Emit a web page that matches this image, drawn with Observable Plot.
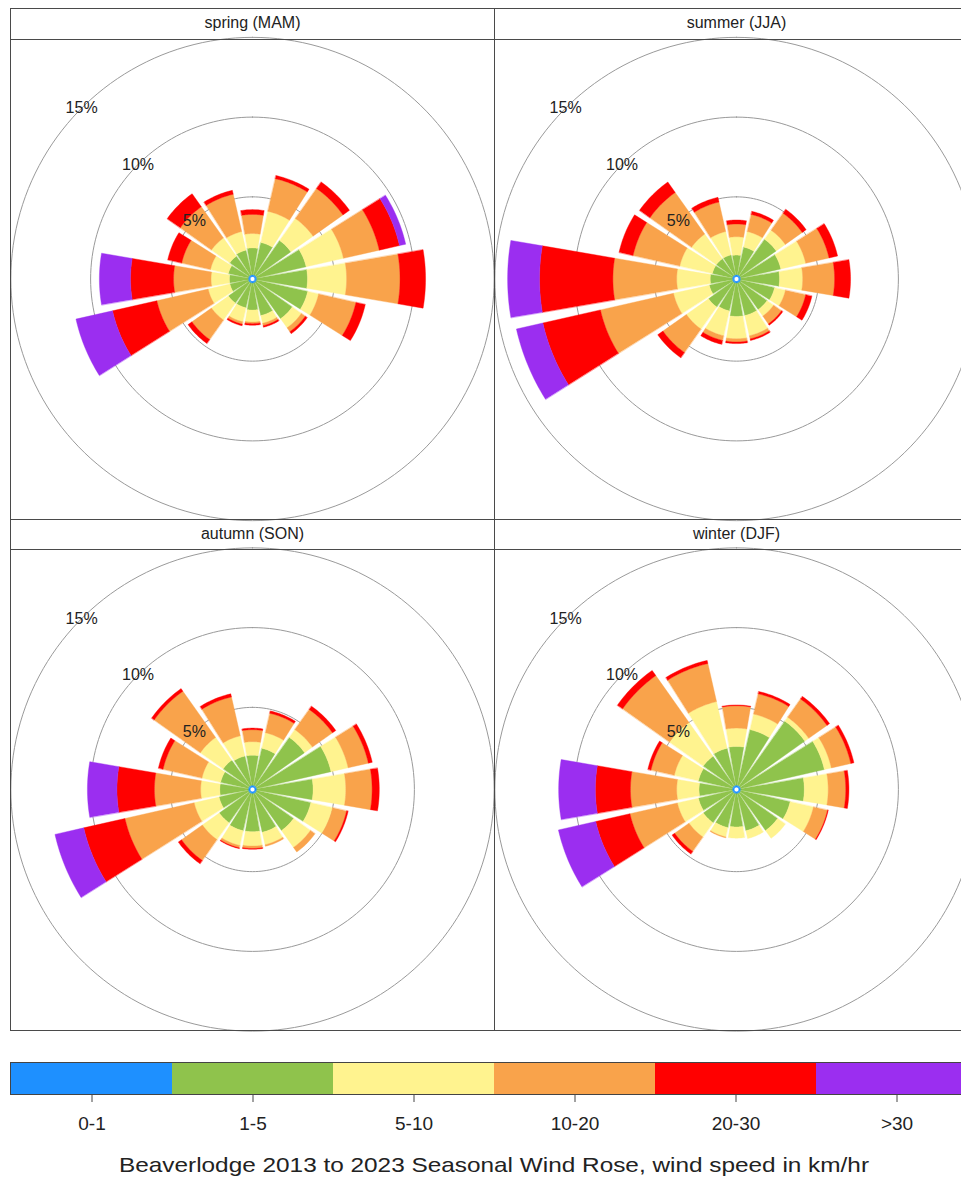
<!DOCTYPE html>
<html><head><meta charset="utf-8">
<script src="https://cdn.jsdelivr.net/npm/d3@7"></script>
<script src="https://cdn.jsdelivr.net/npm/@observablehq/plot@0.6"></script>
<style>
html,body{margin:0;padding:0;background:#fff;overflow:hidden;}
body{font-family:"Liberation Sans",Arial,Helvetica,sans-serif;}
#fig{position:relative;width:987px;height:1187px;overflow:hidden;}
.panel{position:absolute;box-sizing:border-box;border:1.5px solid #4a4a4a;}
.strip{position:absolute;left:0;right:0;top:0;box-sizing:border-box;border-bottom:1.5px solid #4a4a4a;text-align:center;font-size:16px;color:#222;}
.rose{position:absolute;}
</style></head><body><div id="fig"></div>
<script>
// ---- categories ----
const directions = [0, 22.5, 45, 67.5, 90, 112.5, 135, 157.5, 180, 202.5, 225, 247.5, 270, 292.5, 315, 337.5];
const directionNames = ["N","NNE","NE","ENE","E","ESE","SE","SSE","S","SSW","SW","WSW","W","WNW","NW","NNW"];
const speedBins = ["0-1", "1-5", "5-10", "10-20", "20-30", ">30"];
const binColors = ["#1E90FF", "#8FC34C", "#FFF38F", "#F9A34B", "#FF0000", "#9B2EF0"];
const seasonNames = ["spring (MAM)", "summer (JJA)", "autumn (SON)", "winter (DJF)"];
const gridLevels = [5, 10, 15];
const captionText = "Beaverlodge 2013 to 2023 Seasonal Wind Rose, wind speed in km/hr";

// ---- frequencies (% of time) by direction, one array per speed bin ----
const spring_0_1   = [0.12,0.12,0.12,0.12,0.12,0.12,0.12,0.12,0.12,0.12,0.12,0.12,0.12,0.12,0.12,0.12];
const spring_1_5   = [1.68,2.08,2.68,3.18,3.18,3.28,2.78,2.08,1.68,1.58,1.58,1.18,1.18,1.28,1.48,1.58];
const spring_5_10  = [0.90,2.00,1.70,2.40,2.45,0.70,0.70,0.50,0.75,0.90,1.30,1.40,1.15,1.15,1.40,1.20];
const spring_10_20 = [1.20,2.10,2.30,2.30,3.35,2.40,0.30,0.15,0.10,0.15,1.50,3.30,2.35,1.85,2.40,2.40];
const spring_20_30 = [0.30,0.20,0.50,1.30,1.60,0.60,0.15,0.10,0.10,0.10,0.30,2.85,2.70,0.90,1.00,0.25];
const spring_30    = [0,0,0,0.40,0,0,0,0,0,0,0,2.35,1.95,0,0,0];

const summer_0_1   = [0.12,0.12,0.12,0.12,0.12,0.12,0.12,0.12,0.12,0.12,0.12,0.12,0.12,0.12,0.12,0.12];
const summer_1_5   = [1.23,1.78,2.78,2.58,2.43,2.18,2.08,2.08,2.08,1.78,1.88,1.48,1.38,1.28,1.28,1.28];
const summer_5_10  = [1.15,1.00,0.70,1.60,1.45,0.70,0.50,1.30,1.40,1.60,1.70,2.30,2.10,2.10,1.90,1.50];
const summer_10_20 = [0.80,1.10,1.30,1.50,2.00,1.30,0.60,0.20,0.20,0.30,1.80,4.70,4.00,3.00,3.20,1.90];
const summer_20_30 = [0.25,0.20,0.30,0.55,1.00,0.40,0.10,0.10,0.10,0.25,0.40,3.70,4.60,0.90,0.80,0.30];
const summer_30    = [0,0,0,0,0,0,0,0,0,0,0,1.70,2.00,0,0,0];

const autumn_0_1   = [0.12,0.12,0.12,0.12,0.12,0.12,0.12,0.12,0.12,0.12,0.12,0.12,0.12,0.12,0.12,0.12];
const autumn_1_5   = [1.88,2.38,3.73,4.78,3.53,3.48,2.88,2.48,2.38,2.38,2.28,1.88,1.78,1.78,1.98,1.88];
const autumn_5_10  = [0.85,1.00,0.60,1.10,2.05,1.40,1.30,0.80,0.90,0.95,1.30,1.60,1.20,1.20,1.75,1.30];
const autumn_10_20 = [0.75,1.25,1.55,1.30,1.65,0.90,0.35,0.10,0.15,0.15,1.60,4.45,2.90,2.50,3.55,2.50];
const autumn_20_30 = [0.10,0.15,0.25,0.25,0.45,0.10,0,0,0.05,0.05,0.25,2.65,2.35,0.30,0.20,0.20];
const autumn_30    = [0,0,0,0,0,0,0,0,0,0,0,1.85,1.85,0,0,0];

const winter_0_1   = [0.12,0.12,0.12,0.12,0.12,0.12,0.12,0.12,0.12,0.12,0.12,0.12,0.12,0.12,0.12,0.12];
const winter_1_5   = [2.43,3.58,4.98,5.38,3.98,3.18,2.88,2.38,2.08,2.18,2.28,2.18,2.08,2.18,2.28,2.38];
const winter_5_10  = [1.15,1.00,0.30,0.45,1.50,1.50,0.60,0.50,0.70,0.60,1.10,1.35,1.40,1.55,2.60,3.00];
const winter_10_20 = [1.40,1.30,1.40,1.25,1.10,0.90,0,0,0,0.05,1.10,3.05,2.90,1.50,3.60,2.45];
const winter_20_30 = [0.05,0.15,0.20,0.20,0.20,0.05,0,0,0,0,0.20,2.20,2.20,0.20,0.40,0.20];
const winter_30    = [0,0,0,0,0,0,0,0,0,0,0,2.40,2.30,0,0,0];

const seasonTables = [
  [spring_0_1, spring_1_5, spring_5_10, spring_10_20, spring_20_30, spring_30],
  [summer_0_1, summer_1_5, summer_5_10, summer_10_20, summer_20_30, summer_30],
  [autumn_0_1, autumn_1_5, autumn_5_10, autumn_10_20, autumn_20_30, autumn_30],
  [winter_0_1, winter_1_5, winter_5_10, winter_10_20, winter_20_30, winter_30]
];

// ---- geometry ----
const K = 15.95;        // px per percent
const OFFSET = 0.15;    // central hole (percent units)
const HALF = 9.7;       // half angular width of a paddle (deg)
const rad = Math.PI / 180;

function arc(r, a0, a1, n) {
  const pts = [];
  for (let i = 0; i <= n; i++) {
    const a = (a0 + (a1 - a0) * i / n) * rad;
    pts.push([r * Math.sin(a), r * Math.cos(a)]);
  }
  return pts;
}

function wedgeRows(seasonIndex) {
  const rows = [];
  const table = seasonTables[seasonIndex];
  directions.forEach((dir, i) => {
    let cum = 0;
    table.forEach((values, b) => {
      const v = values[i];
      if (!(v > 0)) return;
      const r0 = OFFSET + cum, r1 = OFFSET + cum + v;
      cum += v;
      const id = `${directionNames[i]}-${speedBins[b]}`;
      const outer = arc(r1, dir - HALF, dir + HALF, 16);
      const inner = arc(r0, dir + HALF, dir - HALF, 16);
      [...outer, ...inner].forEach(([x, y]) => rows.push({id, bin: speedBins[b], x, y}));
    });
  });
  return rows;
}

const circleRows = gridLevels.flatMap(level =>
  arc(level + OFFSET, 0, 360, 180).map(([x, y]) => ({level, x, y})));

const fig = document.getElementById("fig");
const font = '"Liberation Sans", Arial, Helvetica, sans-serif';

seasonNames.forEach((name, s) => {
  const col = s % 2, row = Math.floor(s / 2);
  const left = 10 + 484 * col;
  const top = row === 0 ? 8 : 519;
  const stripH = row === 0 ? 30 : 29;
  const bodyH = row === 0 ? 481 : 482;

  const chart = Plot.plot({
    width: 484, height: bodyH, margin: 0,
    x: {domain: [-242 / K, 242 / K], axis: null},
    y: {domain: [-bodyH / 2 / K, bodyH / 2 / K], axis: null},
    color: {domain: speedBins, range: binColors},
    style: {fontFamily: font, background: "transparent", overflow: "visible"},
    marks: [
      Plot.line(circleRows, {x: "x", y: "y", z: "level", stroke: "#9a9a9a", strokeWidth: 1, curve: "linear-closed"}),
      Plot.line(wedgeRows(s), {x: "x", y: "y", z: "id", fill: "bin", stroke: "bin", strokeWidth: 0.4, curve: "linear-closed"}),
      Plot.text(gridLevels, {
        x: v => -(v + OFFSET) * Math.SQRT1_2,
        y: v => (v + OFFSET) * Math.SQRT1_2,
        text: v => `${v}%`, fontSize: 16, fill: "#222"
      })
    ]
  });
  chart.classList.add("rose");
  chart.style.left = left + "px";
  chart.style.top = (top + stripH) + "px";
  fig.appendChild(chart);

  const panel = document.createElement("div");
  panel.className = "panel";
  panel.style.left = left + "px";
  panel.style.top = top + "px";
  panel.style.width = "485px";
  panel.style.height = (stripH + bodyH + 1) + "px";
  const strip = document.createElement("div");
  strip.className = "strip";
  strip.style.height = (stripH + 0.5) + "px";
  strip.style.lineHeight = (stripH - 2) + "px";
  strip.textContent = name;
  panel.appendChild(strip);
  fig.appendChild(panel);
});

// ---- colour key with caption ----
const legend = Plot.plot({
  width: 987, height: 125,
  marginLeft: 10, marginRight: 10, marginTop: 0, marginBottom: 93,
  x: {type: "band", domain: speedBins, padding: 0, label: null},
  color: {domain: speedBins, range: binColors},
  style: {fontFamily: font, fontSize: "19px", color: "#222", background: "transparent", overflow: "visible"},
  marks: [
    Plot.cell(speedBins, {x: d => d, fill: d => d}),
    Plot.frame({stroke: "#444"}),
    Plot.axisX({tickSize: 8, tickPadding: 14, fontSize: 19, stroke: "#444"}),
    Plot.text([captionText], {
      frameAnchor: "bottom", dy: 77, text: d => d, fontSize: 21, fill: "#222"
    })
  ]
});
legend.style.position = "absolute";
legend.style.left = "0px";
legend.style.top = "1062px";
fig.appendChild(legend);
// caption is stretched to the reference's width
legend.querySelectorAll("text").forEach(t => {
  if (t.textContent === captionText) { t.setAttribute("textLength", "750"); t.setAttribute("lengthAdjust", "spacingAndGlyphs"); }
});
</script></body></html>
